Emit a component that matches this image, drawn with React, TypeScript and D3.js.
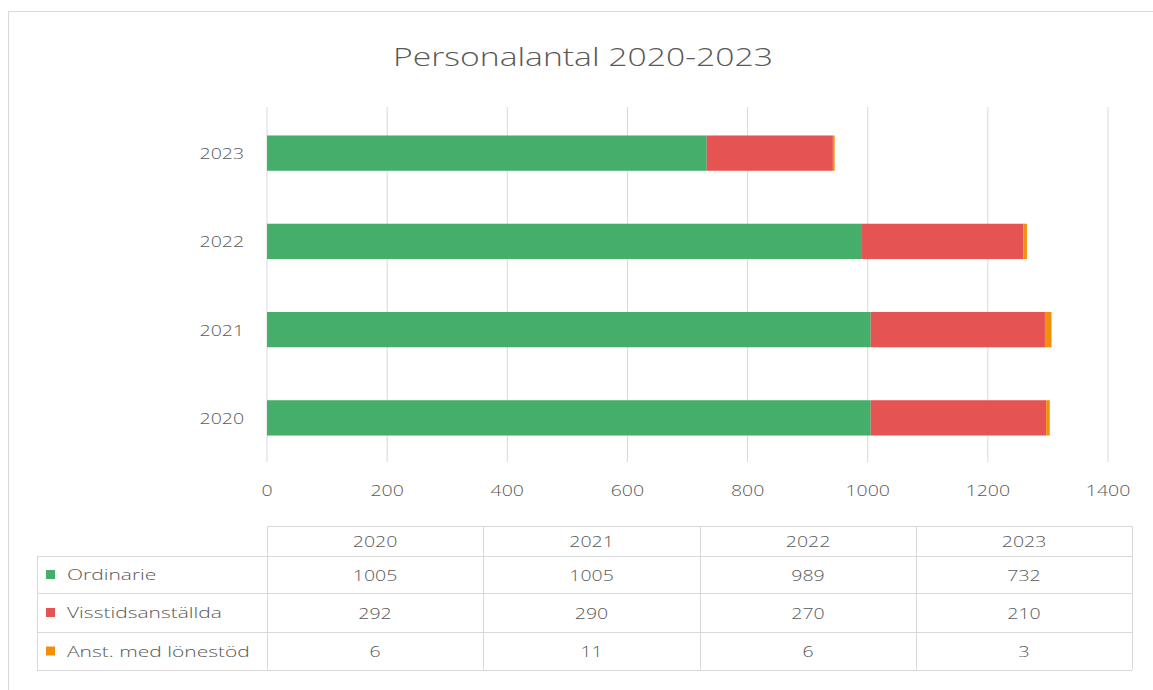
import * as d3 from 'd3';
import React from 'react';

const years = ['2020', '2021', '2022', '2023'];
const seriesNames = ['Ordinarie', 'Visstidsanställda', 'Anst. med lönestöd'];
const ordinarie = [1005, 1005, 989, 732];
const visstid = [292, 290, 270, 210];
const lonestod = [6, 11, 6, 3];
const xTicks = [0, 200, 400, 600, 800, 1000, 1200, 1400];
const colors = ['#45ae6a', '#e65353', '#f0900c'];

const W = 1153;
const H = 690;
const FONT = "'Open Sans', 'Noto Sans', sans-serif";
const TEXT = '#595959';
const GRID = '#d9d9d9';

// stretched text, the reference is horizontally wide
function T({ x, y, size, children, anchor = 'middle', sx = 1.3 }: any) {
  return (
    <text
      transform={`translate(${x},${y}) scale(${sx},1)`}
      textAnchor={anchor}
      dominantBaseline="central"
      fontSize={size}
      fontFamily={FONT}
      fontWeight={300}
      fill={TEXT}
    >
      {children}
    </text>
  );
}

export default function App() {
  const values = [ordinarie, visstid, lonestod];
  const rows = years.map((y, i) => ({
    year: y,
    s0: ordinarie[i],
    s1: visstid[i],
    s2: lonestod[i],
  }));
  const stack = d3.stack<any>().keys(['s0', 's1', 's2'])(rows);

  const x = d3.scaleLinear().domain([0, 1400]).range([267, 1108]);
  const y = d3
    .scaleBand<string>()
    .domain([...years].reverse())
    .range([109, 462])
    .paddingInner(0.6)
    .paddingOuter(0.3);

  const colX = [267, 483, 700, 916, 1132];
  const rowY = [526, 556, 593, 632, 670];
  const legendLeft = 37;

  return (
    <svg
      width={W}
      height={H}
      style={{ position: 'absolute', left: 0, top: 0, background: '#fff' }}
    >
      <rect x={8.5} y={11.5} width={W} height={H} fill="#fff" stroke={GRID} />

      <text
        x={583}
        y={56}
        textAnchor="middle"
        dominantBaseline="central"
        fontSize={26}
        fontFamily={FONT}
        fontWeight={300}
        fill={TEXT}
        textLength={380}
        lengthAdjust="spacingAndGlyphs"
      >
        Personalantal 2020-2023
      </text>

      {xTicks.map((t) => (
        <line
          key={t}
          x1={x(t)}
          x2={x(t)}
          y1={107}
          y2={462}
          stroke={GRID}
          strokeWidth={1}
        />
      ))}

      {stack.map((layer, si) =>
        layer.map((d: any) => (
          <rect
            key={si + d.data.year}
            x={x(d[0])}
            width={x(d[1]) - x(d[0])}
            y={y(d.data.year)}
            height={y.bandwidth()}
            fill={colors[si]}
          />
        ))
      )}

      {years.map((yr) => (
        <T key={yr} x={244} y={(y(yr) as number) + y.bandwidth() / 2} size={15} anchor="end">
          {yr}
        </T>
      ))}

      {xTicks.map((t) => (
        <T key={t} x={x(t)} y={490} size={15}>
          {t}
        </T>
      ))}

      {/* data table */}
      <g stroke={GRID} strokeWidth={1}>
        <line x1={colX[0]} x2={colX[4]} y1={rowY[0] + 0.5} y2={rowY[0] + 0.5} />
        {rowY.slice(1).map((ry) => (
          <line key={ry} x1={legendLeft} x2={colX[4]} y1={ry + 0.5} y2={ry + 0.5} />
        ))}
        {colX.map((cx) => (
          <line key={cx} x1={cx + 0.5} x2={cx + 0.5} y1={rowY[0]} y2={rowY[4]} />
        ))}
        <line x1={legendLeft + 0.5} x2={legendLeft + 0.5} y1={rowY[1]} y2={rowY[4]} />
      </g>

      {years.map((yr, i) => (
        <T key={yr} x={(colX[i] + colX[i + 1]) / 2} y={(rowY[0] + rowY[1]) / 2} size={15}>
          {yr}
        </T>
      ))}

      {seriesNames.map((name, si) => {
        const cy = (rowY[si + 1] + rowY[si + 2]) / 2;
        return (
          <g key={name}>
            <rect x={46} y={cy - 4.5} width={9} height={9} fill={colors[si]} />
            <T x={67} y={cy} size={15} anchor="start" sx={1.4}>
              {name}
            </T>
            {values[si].map((v, i) => (
              <T key={i} x={(colX[i] + colX[i + 1]) / 2} y={cy} size={15}>
                {v}
              </T>
            ))}
          </g>
        );
      })}
    </svg>
  );
}
